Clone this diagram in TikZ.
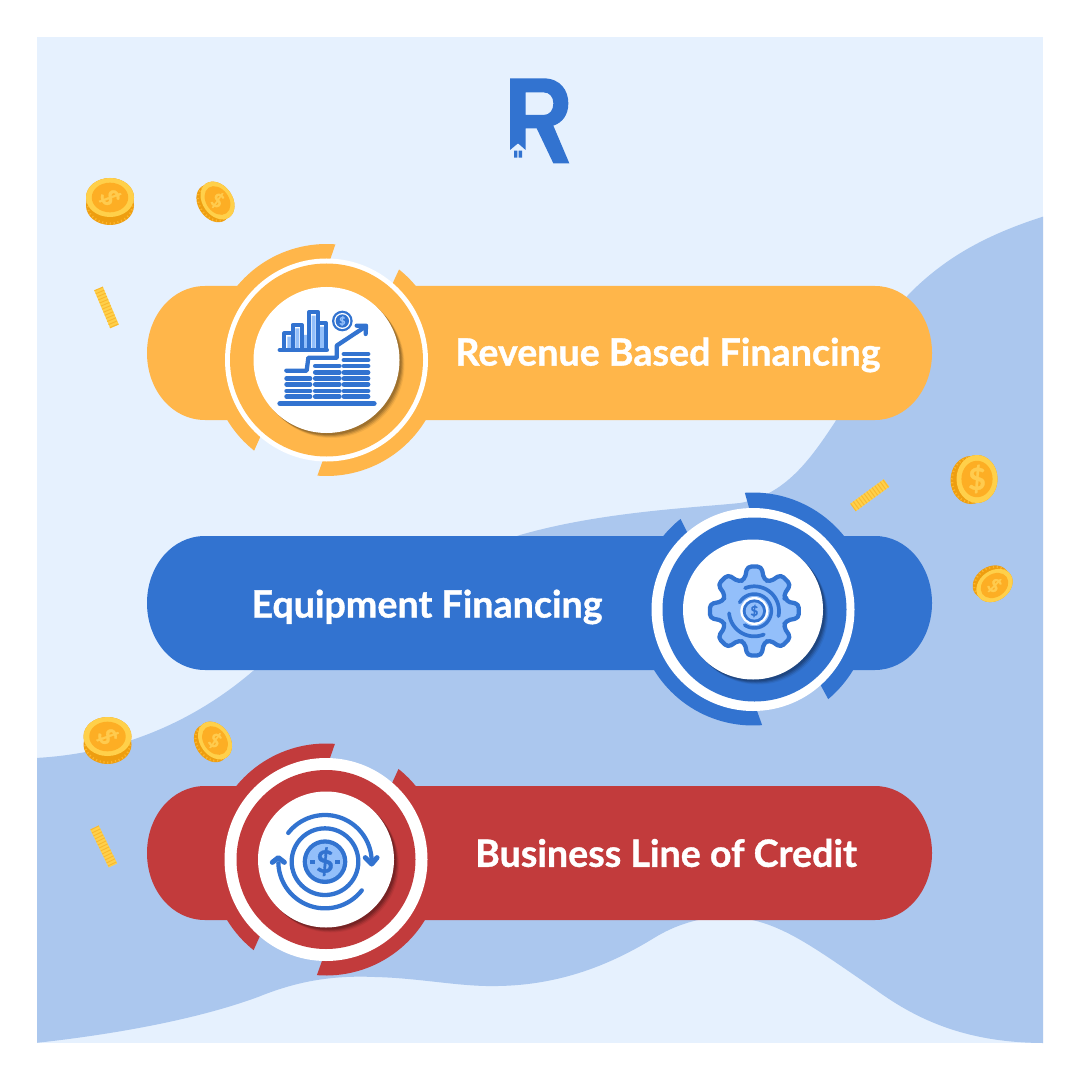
\documentclass[tikz,border=0pt]{standalone}
\usepackage{fontspec}
\setmainfont{Lato}[BoldFont={Lato Bold},BoldFeatures={FakeBold=1}]
\definecolor{panel}{HTML}{E6F1FE}
\definecolor{wave}{HTML}{ABC7EE}
\definecolor{orangeb}{HTML}{FFB64A}
\definecolor{blueb}{HTML}{3273D0}
\definecolor{redb}{HTML}{C23B3C}
\definecolor{iconlight}{HTML}{93BFFA}
\definecolor{coinedge}{HTML}{EE9E10}
\definecolor{coinrib}{HTML}{FDB52C}
\definecolor{coinface}{HTML}{FFD04A}
\definecolor{coininner}{HTML}{FDAE24}
\definecolor{coinsign}{HTML}{FFCB4E}
\definecolor{stickrib}{HTML}{F9B82F}
\tikzset{
  title/.style={font=\bfseries\fontsize{28.2pt}{30pt}\selectfont,text=white,inner sep=0pt},
  iconline/.style={draw=blueb,line width=3.2pt,line cap=round,line join=round},
  coinrow/.style={draw=blueb,line width=3.6pt,line cap=round},
}
% centre x, y, colour, white outer, white inner, disc radius
\newcommand\medal[6]{%
  \begin{scope}[shift={(#1,#2)},yscale=-1]
    \fill[#3] plot[domain=85.6:231.4,samples=60] (\x:116) -- (229:100) -- (0,0) -- (88:100) -- cycle;
    \fill[#3] plot[domain=-94.5:51.3,samples=60] (\x:116) -- (49:100) -- (0,0) -- (-92:100) -- cycle;
    \fill[white] (0,0) circle[radius=#4];
    \fill[#3] (0,0) circle[radius=#5];
    \foreach \s/\o in {5/.06,4/.10,3/.13,2/.15}{\fill[black,opacity=\o] (\s,-\s) circle[radius=#6];}
    \fill[white] (0,0) circle[radius=#6];
  \end{scope}}
% cx cy rot rx ry dx dy dollar-rot
\newcommand\coin[8]{%
  \begin{scope}[shift={(#1,#2)},rotate=#3]
    \fill[coinedge] (#6,#7) ellipse[x radius=#4,y radius=#5];
    \fill[coinedge] (0,0) ellipse[x radius=#4,y radius=#5];
    \draw[coinrib,line width=1.6pt,dash pattern=on .9pt off 2pt] (#6,#7) ellipse[x radius=#4-1.5,y radius=#5-1.5];
    \fill[coinface] (0,0) ellipse[x radius=#4,y radius=#5];
    \fill[coininner] (0,0) ellipse[x radius=.76*#4,y radius=.76*#5];
    \pgfmathsetmacro\csz{.95*#5}
    \node[rotate=#8,text=coinsign,inner sep=0pt,font=\bfseries\fontsize{\csz pt}{10pt}\selectfont] at (0,0) {\$};
  \end{scope}}
\newcommand\stick[5]{%
  \coordinate (#1a) at (#2);\coordinate (#1b) at (#3);
  \draw[#4,line width=7pt] (#1a) -- (#1b);
  \draw[stickrib,line width=7pt,dash pattern=on .7pt off 1.8pt] (#1a) -- (#1b);}
\begin{document}
\begin{tikzpicture}[x=.75pt,y=-.75pt]
\useasboundingbox (0,0) rectangle (1080,1080);
\fill[white] (0,0) rectangle (1080,1080);
\fill[panel] (37,37) rectangle (1043,1043);
\begin{scope}
\clip (37,37) rectangle (1043,1043);
\fill[wave] (1045,216) .. controls (985,235) and (945,258) .. (910,293) .. controls (880,325) and (860,375) .. (835,422) .. controls (810,460) and (785,495) .. (740,503) .. controls (690,508) and (600,512) .. (520,535) .. controls (450,560) and (340,610) .. (253,671) .. controls (190,725) and (115,754) .. (35,758)
  -- (35,1043)
  .. controls (100,1036) and (190,1022) .. (258,997)
  .. controls (295,982) and (330,975) .. (375,977)
  .. controls (420,978) and (460,987) .. (498,986)
  .. controls (560,985) and (610,965) .. (654,938)
  .. controls (675,925) and (700,917) .. (725,917)
  .. controls (775,917) and (810,945) .. (876,990)
  .. controls (920,1022) and (970,1043) .. (1045,1043)
  -- cycle;
\end{scope}
% logo
\begin{scope}[shift={(490,60)},scale=1/3]
  \fill[blueb,even odd rule] (60,55) -- (160,55) .. controls (212,55) and (235,92) .. (235,130) .. controls (235,165) and (217,188) .. (190,197) -- (238,310) -- (190,310) -- (140,205) -- (107,205) -- (107,270) -- (84,250) -- (60,270) -- cycle
   (107,97) -- (160,97) .. controls (180,97) and (190,112) .. (190,130) .. controls (190,150) and (180,165) .. (160,165) -- (107,165) -- cycle;
  \fill[blueb] (72,272) rectangle (82,293) (86,272) rectangle (96,293);
\end{scope}
% coins
\coin{110}{197.5}{0}{24}{19.5}{0}{8}{-65}
\coin{217.5}{200.5}{-55}{20.5}{15}{0}{5}{-30}
\coin{977}{479}{0}{20.5}{24}{-6}{1}{0}
\coin{994.5}{585.5}{35}{19.5}{15}{-1}{-5}{-40}
\coin{107.5}{736.5}{0}{24}{19.5}{0}{8}{-65}
\coin{215}{740.5}{-55}{20.5}{15}{0}{5}{-30}
\stick{sa}{98.5,288.5}{114.5,326.5}{coinface}{}
\stick{sb}{853,507.5}{886.5,483}{coinface}{}
\stick{sc}{94.5,827.5}{113,865.5}{coinface}{}
% pills
\fill[orangeb] (205,286) -- (875,286) .. controls (907,286) and (932,316) .. (932,353) .. controls (932,390) and (907,420) .. (875,420) -- (205,420) .. controls (172,420) and (147,390) .. (147,353) .. controls (147,316) and (172,286) .. (205,286) -- cycle;
\fill[blueb] (205,536) -- (875,536) .. controls (907,536) and (932,566) .. (932,603) .. controls (932,640) and (907,670) .. (875,670) -- (205,670) .. controls (172,670) and (147,640) .. (147,603) .. controls (147,566) and (172,536) .. (205,536) -- cycle;
\fill[redb] (205,786) -- (875,786) .. controls (907,786) and (932,816) .. (932,853) .. controls (932,890) and (907,920) .. (875,920) -- (205,920) .. controls (172,920) and (147,890) .. (147,853) .. controls (147,816) and (172,786) .. (205,786) -- cycle;
\medal{326.5}{360}{orangeb}{101.5}{96.5}{73}
\begin{scope}[shift={(753,609.5)},yscale=-1]
  \fill[blueb] plot[domain=94:-50,samples=60] (\x:117) -- (-48:100) -- (0,0) -- (92:100) -- cycle;
  \fill[blueb] plot[domain=-85.5:-231.3,samples=60] (\x:116) -- (-229.4:100) -- (0,0) -- (-88:100) -- cycle;
  \fill[white] (0,0) circle[radius=101.5];
  \fill[blueb] (1.5,0) circle[radius=92];
  \foreach \s/\o in {5/.06,4/.10,3/.13,2/.15}{\fill[black,opacity=\o] (\s,-\s) circle[radius=70];}
  \fill[white] (0,0) circle[radius=70];
\end{scope}
\medal{326}{859.5}{redb}{101.5}{89.5}{68}
% titles
\node[title] (t1) at (668,355) {Revenue Based Financing};
\node[title] (t2) at (427,607) {Equipment Financing};
\node[title] (t3) at (666,853) {Business Line of Credit};
% icon 1
\begin{scope}[shift={(140,230)},scale=1/3]
  \foreach \y in {445,463,483,500}{\draw[coinrow] (440,\y) -- (510,\y);}
  \foreach \y in {408,427,445,463,483,500}{\draw[coinrow] (526,\y) -- (598,\y);}
  \foreach \y in {372,390,408,427,445,463,483,500}{\draw[coinrow] (612,\y) -- (684,\y);}
  \draw[coinrow,line width=4pt] (420,521) -- (702,521);
  \draw[iconline] (439,422) -- (500,422) -- (505,383) -- (590,383) -- (590,347) -- (676,290);
  \draw[iconline] (650,287) -- (678,287) -- (677,312);
  \fill[iconlight] (442,320) rectangle (456,358) (466,295) rectangle (478,358) (490,315) rectangle (503,358) (515,257) rectangle (527,358) (540,290) rectangle (553,358);
  \draw[iconline] (433,358) -- (433,310) -- (458,310) -- (458,358);
  \draw[iconline] (458,358) -- (458,285) -- (485,285) -- (485,358);
  \draw[iconline] (507,358) -- (507,247) -- (535,247) -- (535,358);
  \draw[iconline] (535,280) -- (558,280) -- (558,358);
  \draw[coinrow,line width=3.6pt] (420,360) -- (560,360);
  \fill[blueb] (607,273) circle[radius=31];
  \fill[white] (607,273) circle[radius=24];
  \fill[blueb] (607,273) circle[radius=20];
  \node[text=iconlight,inner sep=0pt,font=\bfseries\fontsize{8pt}{8pt}\selectfont] (d1) at (607,273) {\$};
\end{scope}
% icon 2
\begin{scope}[shift={(640,480)},scale=1/3]
  \begin{scope}[shift={(343,393)}]
    \filldraw[fill=iconlight,iconline,rounded corners=3pt] (-17:99) \foreach \a in {0,45,...,315}{ -- (\a-17:99) -- (\a-9:135) -- (\a+9:135) -- (\a+17:99) } -- cycle;
    \draw[iconline,line width=2.8pt] plot[domain=-112:12,samples=40] (\x:74);
    \draw[iconline,line width=2.8pt] plot[domain=68:175,samples=40] (\x:76);
    \draw[iconline,line width=2.6pt] plot[domain=-150:125,samples=40] (\x:51);
    \fill[white] (0,0) circle[radius=42];
    \fill[blueb] (0,0) circle[radius=35];
    \fill[iconlight] (0,0) circle[radius=26];
    \node[text=blueb,inner sep=0pt,font=\bfseries\fontsize{10pt}{10pt}\selectfont] (d2) at (0,0) {\$};
  \end{scope}
\end{scope}
% icon 3
\begin{scope}[shift={(200,735)},scale=1/3]
  \begin{scope}[shift={(375,380)}]
    \fill[blueb] (0,0) circle[radius=67];
    \fill[iconlight] (0,0) circle[radius=54];
    \draw[iconline] (0,0) circle[radius=100];
    \draw[iconline] plot[domain=-142:0,samples=50] (\x:140);
    \draw[iconline] plot[domain=38:178,samples=50] (\x:140);
    \draw[iconline,line width=3.8pt] (121,-12) -- (140,7) -- (156,-12);
    \draw[iconline,line width=3.8pt] (-158,2) -- (-140,-12) -- (-122,2);
    \draw[blueb,line width=3pt] (-44,0) -- (-30,0) (30,0) -- (44,0);
    \node[text=blueb,inner sep=0pt,font=\bfseries\fontsize{23pt}{23pt}\selectfont] (d3) at (0,0) {\$};
  \end{scope}
\end{scope}
\end{tikzpicture}
\end{document}
